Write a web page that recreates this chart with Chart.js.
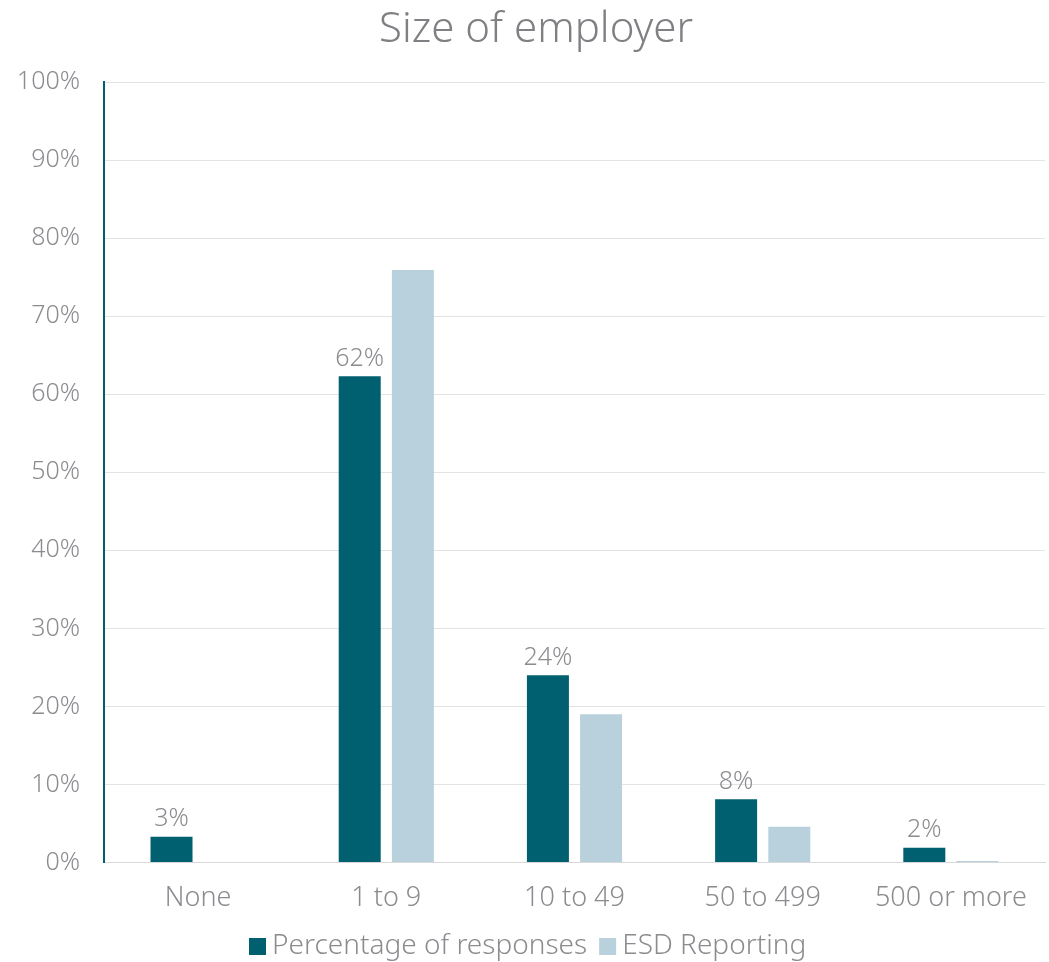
<!DOCTYPE html>
<html>
<head>
<meta charset="utf-8">
<script src="https://cdn.jsdelivr.net/npm/chart.js@4/dist/chart.umd.min.js"></script>
<style>
  body { margin: 0; background: #fff; }
  #wrap { width: 1049px; height: 962px; }
</style>
</head>
<body>
<div id="wrap"><canvas id="chart"></canvas></div>
<script>
// chart data
const categories = ["None", "1 to 9", "10 to 49", "50 to 499", "500 or more"];
const responses = [3.3, 62.3, 24.0, 8.1, 1.9];
const esdReporting = [0, 75.9, 19.0, 4.6, 0.2];
const yTicks = [0, 10, 20, 30, 40, 50, 60, 70, 80, 90, 100];
const chartTitle = "Size of employer";
const seriesNames = ["Percentage of responses", "ESD Reporting"];
const seriesColors = ["#00606F", "#B8D1DC"];

const textGrey = "#8c8c90";
const fontFamily = "'Noto Sans', 'DejaVu Sans', sans-serif";

// Labels above the first series, the title and a compact legend
const extras = {
  id: "extras",
  afterDraw(chart) {
    const ctx = chart.ctx;
    const meta = chart.getDatasetMeta(0);
    ctx.save();
    ctx.fillStyle = textGrey;
    ctx.font = "300 25px " + fontFamily;
    ctx.textAlign = "center";
    ctx.textBaseline = "bottom";
    meta.data.forEach((bar, i) => {
      ctx.fillText(Math.round(responses[i]) + "%", bar.x, bar.y - 5);
    });

    // title
    ctx.fillStyle = "#808084";
    ctx.font = "300 42px " + fontFamily;
    ctx.textBaseline = "middle";
    ctx.fillText(chartTitle, 536, 30);

    // legend
    ctx.font = "300 28px " + fontFamily;
    ctx.textAlign = "left";
    const legendY = 946;
    let x = 249;
    seriesNames.forEach((name, i) => {
      ctx.fillStyle = seriesColors[i];
      ctx.fillRect(x, legendY - 8, 17, 17);
      ctx.fillStyle = textGrey;
      ctx.fillText(name, x + 23, legendY);
      x += 23 + ctx.measureText(name).width + 12;
    });
    ctx.restore();
  }
};

document.addEventListener("DOMContentLoaded", function () {
  const ctx = document.getElementById("chart").getContext("2d");

  new Chart(ctx, {
    type: "bar",
    data: {
      labels: categories,
      datasets: [
        {
          label: seriesNames[0],
          data: responses,
          backgroundColor: seriesColors[0],
          categoryPercentage: 0.565,
          barPercentage: 0.79,
        },
        {
          label: seriesNames[1],
          data: esdReporting,
          backgroundColor: seriesColors[1],
          categoryPercentage: 0.565,
          barPercentage: 0.79,
        },
      ],
    },
    options: {
      responsive: true,
      maintainAspectRatio: false,
      animation: false,
      layout: { padding: { top: 82, right: 4, left: 0, bottom: 35 } },
      plugins: {
        title: { display: false },
        legend: { display: false },
        tooltip: { enabled: false },
      },
      scales: {
        x: {
          grid: { display: false },
          border: { color: "#d9d9d9", width: 1 },
          ticks: {
            color: textGrey,
            font: { family: fontFamily, size: 27, weight: "300" },
            padding: 12,
          },
        },
        y: {
          min: 0,
          max: 100,
          afterBuildTicks: (axis) => {
            axis.ticks = yTicks.map((v) => ({ value: v }));
          },
          afterFit: (axis) => {
            axis.width = 104;
          },
          grid: { color: "#e3e3e3", drawTicks: false },
          border: { color: "#00606F", width: 2 },
          ticks: {
            color: textGrey,
            font: { family: fontFamily, size: 25, weight: "300" },
            padding: 24,
            callback: (v) => v + "%",
          },
        },
      },
    },
    plugins: [extras],
  });
});
</script>
</body>
</html>
